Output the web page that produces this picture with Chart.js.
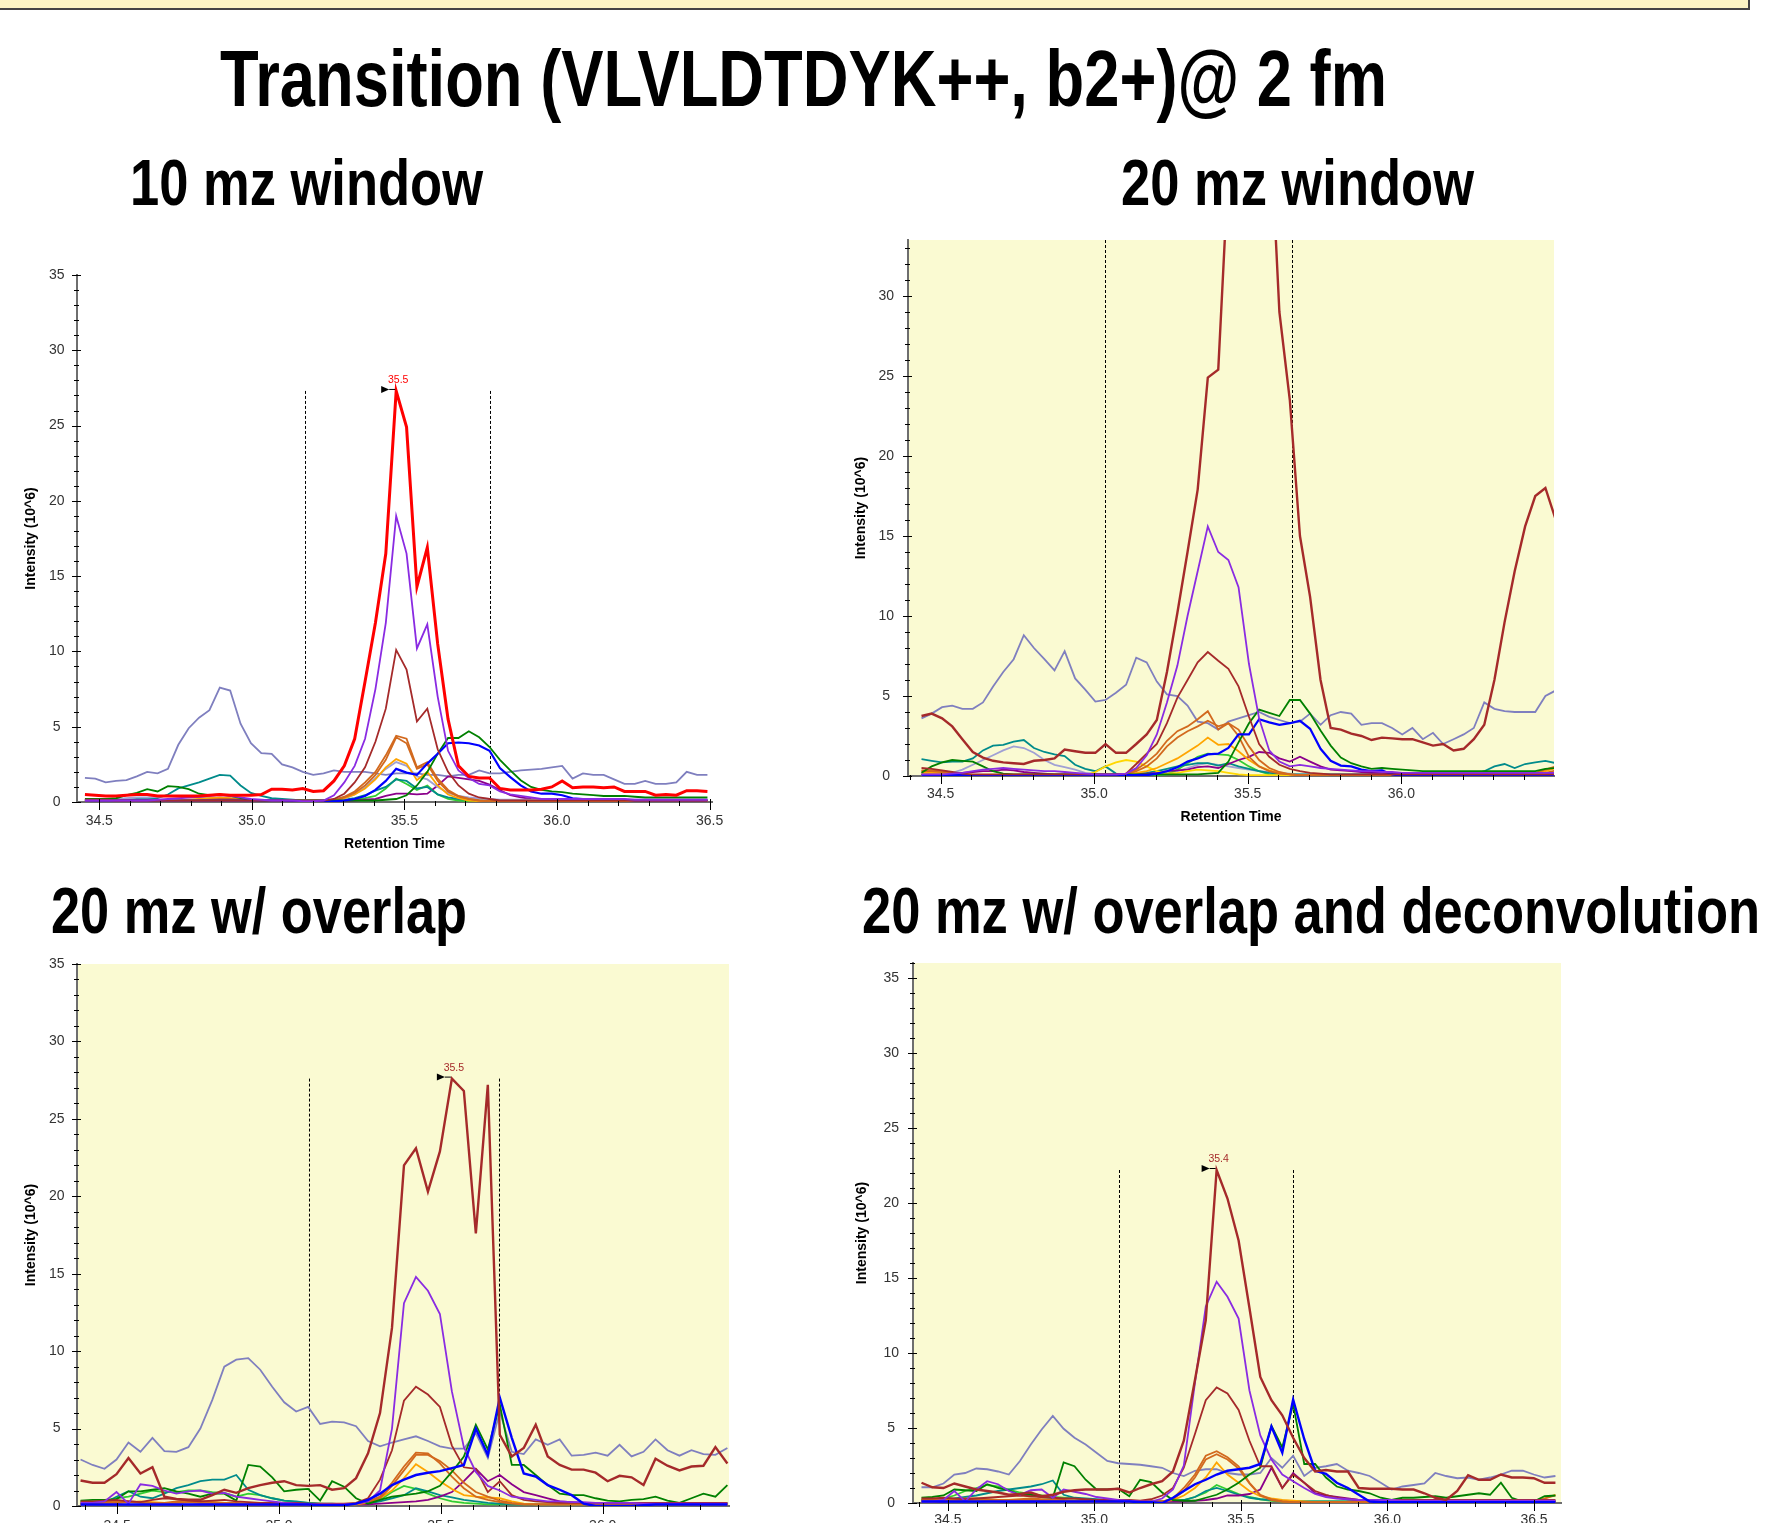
<!DOCTYPE html>
<html>
<head>
<meta charset="utf-8">
<script src="https://cdn.jsdelivr.net/npm/chart.js@4.4.1/dist/chart.umd.min.js"></script>
<style>
  html, body { margin: 0; padding: 0; background: #fff; overflow: hidden; }
  body { width: 1772px; height: 1523px; position: relative; }
  .band { position: absolute; left: 0; top: 0; width: 1748px; height: 8px; background: #fcf4c4;
          border-bottom: 2px solid #444; border-right: 2px solid #444; }
  .head { position: absolute; white-space: nowrap; display: inline-block; line-height: 1;
          font-family: 'Liberation Sans Narrow', 'Liberation Sans', Arial, sans-serif; font-weight: bold;
          color: #000; transform-origin: 0 0; }
  canvas { position: absolute; }
</style>
</head>
<body>
<div class="band"></div>
<div class="head" style="left:220px; top:39px; font-size:80px;" data-w="1167">Transition (VLVLDTDYK++, b2+)@ 2 fm</div>
<div class="head" style="left:130px; top:151px; font-size:64px;" data-w="353">10 mz window</div>
<div class="head" style="left:1121px; top:151px; font-size:64px;" data-w="353">20 mz window</div>
<div class="head" style="left:51px; top:879px; font-size:64px;" data-w="416">20 mz w/ overlap</div>
<div class="head" style="left:862px; top:879px; font-size:64px;" data-w="898">20 mz w/ overlap and deconvolution</div>

<canvas id="p1" width="740" height="610" style="left:0px; top:250px;"></canvas>
<canvas id="p2" width="730" height="620" style="left:840px; top:215px;"></canvas>
<canvas id="p3" width="745" height="630" style="left:0px; top:940px;"></canvas>
<canvas id="p4" width="732" height="630" style="left:840px; top:940px;"></canvas>

<script>
// ---------- 10 mz window ----------
const p1Time = [
  34.453,34.487,34.521,34.555,34.589,34.623,34.657,34.691,34.725,34.759,
  34.793,34.827,34.861,34.895,34.929,34.963,34.997,35.031,35.065,35.099,
  35.133,35.167,35.201,35.235,35.269,35.303,35.337,35.371,35.405,35.439,
  35.473,35.507,35.541,35.575,35.609,35.643,35.677,35.711,35.745,35.779,
  35.813,35.847,35.881,35.915,35.949,35.983,36.017,36.051,36.085,36.119,
  36.153,36.187,36.221,36.255,36.289,36.323,36.357,36.391,36.425,36.459,
  36.493];
const p1Red = [
  0.5,0.45,0.4,0.4,0.45,0.5,0.5,0.4,0.4,0.4,
  0.4,0.4,0.45,0.5,0.45,0.45,0.45,0.5,0.85,0.85,
  0.8,0.9,0.7,0.75,1.4,2.4,4.2,8.0,11.9,16.5,
  27.3,24.9,14.3,16.9,10.5,5.5,2.4,1.7,1.6,1.6,
  0.9,0.8,0.8,0.8,0.85,1.0,1.4,0.95,1.0,1.0,
  0.95,1.0,0.7,0.7,0.7,0.45,0.5,0.45,0.75,0.75,
  0.7];
const p1Violet = [
  0.1,0.1,0.1,0.1,0.1,0.1,0.1,0.15,0.2,0.25,
  0.3,0.35,0.4,0.45,0.4,0.3,0.2,0.15,0.1,0.1,
  0.1,0.05,0.05,0.1,0.45,1.3,2.4,4.2,7.5,11.9,
  19.0,16.5,10.2,11.8,7.0,3.4,2.1,1.6,1.2,1.1,
  0.7,0.5,0.4,0.3,0.2,0.2,0.2,0.2,0.2,0.2,
  0.2,0.2,0.2,0.15,0.15,0.15,0.15,0.15,0.15,0.15,
  0.15];
const p1Brown = [
  0.15,0.15,0.15,0.1,0.1,0.1,0.1,0.1,0.1,0.1,
  0.1,0.1,0.1,0.1,0.1,0.1,0.1,0.1,0.1,0.1,
  0.1,0.1,0.1,0.1,0.2,0.55,1.3,2.3,4.0,6.2,
  10.1,8.8,5.35,6.2,3.5,2.0,1.1,0.55,0.3,0.2,
  0.1,0.1,0.1,0.1,0.1,0.1,0.1,0.1,0.1,0.1,
  0.1,0.1,0.1,0.1,0.1,0.1,0.1,0.1,0.1,0.1,
  0.1];
const p1Choc = [
  0.1,0.1,0.1,0.1,0.1,0.05,0.05,0.05,0.05,0.05,
  0.05,0.1,0.15,0.2,0.2,0.15,0.1,0.05,0.05,0.05,
  0.05,0.05,0.05,0.05,0.15,0.35,0.7,1.3,2.0,3.1,
  4.4,4.2,2.3,2.65,1.55,0.8,0.4,0.2,0.1,0.05,
  0.05,0.05,0.05,0.05,0.05,0.05,0.05,0.05,0.05,0.05,
  0.05,0.05,0.05,0.05,0.05,0.05,0.05,0.05,0.05,0.05,
  0.05];
const p1Choc2 = [
  0.05,0.05,0.05,0.05,0.05,0.05,0.05,0.05,0.05,0.05,
  0.05,0.05,0.05,0.05,0.05,0.05,0.05,0.05,0.05,0.05,
  0.05,0.05,0.05,0.05,0.1,0.3,0.6,1.1,1.8,2.8,
  4.3,3.9,2.2,2.5,1.4,0.7,0.35,0.2,0.1,0.05,
  0.05,0.05,0.05,0.05,0.05,0.05,0.05,0.05,0.05,0.05,
  0.05,0.05,0.05,0.05,0.05,0.05,0.05,0.05,0.05,0.05,
  0.05];
const p1Orange = [
  0.05,0.05,0.05,0.05,0.05,0.05,0.05,0.05,0.05,0.1,
  0.15,0.2,0.25,0.3,0.25,0.15,0.1,0.05,0.05,0.05,
  0.05,0.05,0.05,0.05,0.1,0.25,0.5,0.9,1.5,2.3,
  2.85,2.55,1.45,2.0,1.1,0.5,0.25,0.1,0.05,0.05,
  0.05,0.05,0.05,0.05,0.05,0.05,0.05,0.05,0.05,0.05,
  0.05,0.05,0.05,0.05,0.05,0.05,0.05,0.05,0.05,0.05,
  0.05];
const p1Lilac = [
  0.2,0.2,0.2,0.2,0.25,0.3,0.3,0.35,0.4,0.4,
  0.35,0.3,0.3,0.25,0.25,0.2,0.15,0.1,0.1,0.1,
  0.1,0.1,0.1,0.1,0.1,0.2,0.5,1.0,1.6,2.2,
  2.65,2.4,1.7,1.5,1.0,0.6,0.4,0.3,0.25,0.2,
  0.15,0.15,0.15,0.15,0.15,0.15,0.15,0.15,0.15,0.15,
  0.15,0.15,0.15,0.15,0.15,0.15,0.15,0.15,0.15,0.15,
  0.15];
const p1Teal = [
  0.15,0.15,0.15,0.15,0.15,0.2,0.2,0.25,0.5,0.9,
  1.1,1.3,1.55,1.8,1.75,1.1,0.6,0.4,0.25,0.2,
  0.15,0.1,0.1,0.1,0.1,0.15,0.25,0.45,0.75,1.0,
  1.5,1.4,0.9,1.0,0.5,0.3,0.2,0.15,0.1,0.1,
  0.1,0.1,0.1,0.1,0.1,0.1,0.1,0.1,0.1,0.1,
  0.1,0.1,0.1,0.1,0.1,0.1,0.1,0.1,0.1,0.1,
  0.1];
const p1Green = [
  0.2,0.2,0.2,0.25,0.45,0.6,0.85,0.7,1.05,1.0,
  0.85,0.55,0.45,0.5,0.4,0.25,0.15,0.1,0.1,0.1,
  0.1,0.1,0.1,0.1,0.1,0.1,0.1,0.1,0.1,0.15,
  0.2,0.45,1.1,2.0,3.2,4.25,4.25,4.7,4.3,3.65,
  2.8,2.1,1.45,1.0,0.8,0.7,0.65,0.55,0.5,0.45,
  0.4,0.4,0.4,0.35,0.3,0.3,0.3,0.3,0.3,0.3,
  0.3];
const p1Blue = [
  0.1,0.1,0.1,0.1,0.1,0.1,0.1,0.1,0.1,0.1,
  0.1,0.1,0.1,0.1,0.1,0.1,0.1,0.1,0.1,0.1,
  0.05,0.05,0.05,0.05,0.05,0.1,0.2,0.4,0.8,1.4,
  2.2,1.95,1.8,2.55,3.2,3.9,3.95,3.9,3.75,3.4,
  2.25,1.65,1.1,0.7,0.55,0.55,0.45,0.25,0.2,0.2,
  0.15,0.15,0.15,0.1,0.1,0.1,0.1,0.1,0.1,0.1,
  0.1];
const p1Magenta = [
  0.05,0.05,0.05,0.05,0.05,0.05,0.05,0.05,0.05,0.05,
  0.05,0.1,0.15,0.2,0.15,0.1,0.05,0.05,0.05,0.05,
  0.05,0.05,0.05,0.05,0.05,0.05,0.1,0.15,0.2,0.4,
  0.55,0.55,0.5,0.55,1.1,1.7,1.6,1.5,1.4,1.15,
  0.8,0.45,0.3,0.2,0.15,0.1,0.1,0.1,0.1,0.1,
  0.1,0.1,0.1,0.1,0.1,0.1,0.1,0.1,0.1,0.1,
  0.1];
const p1Lime = [
  0.05,0.05,0.05,0.05,0.05,0.05,0.05,0.05,0.05,0.05,
  0.05,0.05,0.05,0.05,0.05,0.05,0.05,0.05,0.05,0.05,
  0.05,0.05,0.05,0.05,0.05,0.1,0.15,0.25,0.4,0.9,
  1.55,1.2,0.8,1.1,0.5,0.2,0.1,0.05,0.05,0.05,
  0.05,0.05,0.05,0.05,0.05,0.05,0.05,0.05,0.05,0.05,
  0.05,0.05,0.05,0.05,0.05,0.05,0.05,0.05,0.05,0.05,
  0.05];
const p1Slate = [
  1.6,1.55,1.3,1.4,1.45,1.7,2.0,1.9,2.2,3.8,
  4.9,5.6,6.1,7.6,7.4,5.2,3.9,3.25,3.2,2.5,
  2.3,2.0,1.8,1.9,2.1,2.0,2.0,2.0,1.9,1.8,
  1.9,1.9,1.9,1.8,1.8,1.7,1.8,1.8,2.1,1.9,
  1.9,2.0,2.1,2.15,2.2,2.3,2.4,1.55,1.9,1.8,
  1.8,1.5,1.2,1.2,1.4,1.2,1.2,1.3,2.0,1.8,
  1.8];

// ---------- 20 mz window ----------
const p2Time = [
  34.438,34.471,34.505,34.538,34.571,34.605,34.638,34.671,34.704,34.738,
  34.771,34.804,34.838,34.871,34.904,34.938,34.971,35.004,35.037,35.071,
  35.104,35.137,35.171,35.204,35.237,35.271,35.304,35.337,35.370,35.404,
  35.437,35.470,35.504,35.537,35.570,35.603,35.637,35.670,35.703,35.737,
  35.770,35.803,35.837,35.870,35.903,35.937,35.970,36.003,36.036,36.070,
  36.103,36.136,36.170,36.203,36.236,36.270,36.303,36.336,36.369,36.403,
  36.436,36.469,36.503];
const p2Brown = [
  3.75,3.9,3.6,3.1,2.3,1.5,1.15,0.95,0.85,0.8,
  0.75,0.95,1.0,1.1,1.65,1.55,1.45,1.45,2.0,1.45,
  1.45,2.0,2.6,3.5,6.5,10.2,14.0,17.9,24.9,25.4,
  38,48,52,50,42,29,23.5,15,11.2,6.0,
  3.0,2.9,2.65,2.5,2.25,2.4,2.35,2.3,2.3,2.1,
  1.9,2.0,1.6,1.7,2.3,3.2,6.0,9.6,12.8,15.6,
  17.5,18.0,16.0];
const p2Violet = [
  0.1,0.1,0.1,0.15,0.2,0.3,0.4,0.45,0.5,0.45,
  0.4,0.35,0.3,0.3,0.25,0.2,0.15,0.1,0.1,0.1,
  0.15,0.5,1.3,2.6,4.6,6.9,10.0,12.8,15.6,14.0,
  13.5,11.8,7.0,3.6,1.6,0.9,0.6,0.7,0.6,0.5,
  0.45,0.4,0.35,0.3,0.3,0.25,0.25,0.2,0.2,0.2,
  0.2,0.2,0.2,0.2,0.2,0.2,0.2,0.2,0.2,0.2,
  0.2,0.2,0.2];
const p2Brown2 = [
  0.5,0.45,0.35,0.25,0.15,0.1,0.1,0.1,0.1,0.1,
  0.1,0.1,0.1,0.1,0.1,0.1,0.1,0.1,0.1,0.1,
  0.15,0.75,1.4,2.0,3.3,4.9,6.0,7.1,7.75,7.2,
  6.7,5.6,3.7,2.0,1.2,0.7,0.45,0.3,0.2,0.15,
  0.1,0.1,0.1,0.1,0.1,0.1,0.1,0.1,0.1,0.1,
  0.1,0.1,0.1,0.1,0.1,0.1,0.1,0.1,0.1,0.1,
  0.1,0.1,0.1];
const p2Slate = [
  3.6,3.9,4.3,4.4,4.2,4.2,4.6,5.6,6.5,7.3,
  8.8,8.0,7.3,6.6,7.8,6.1,5.4,4.65,4.75,5.2,
  5.7,7.4,7.1,5.9,5.1,5.0,4.4,3.4,3.3,2.9,
  3.4,3.6,3.8,4.0,3.7,3.5,3.3,3.4,3.9,3.2,
  3.8,4.0,3.9,3.2,3.3,3.3,3.0,2.6,3.0,2.3,
  2.7,2.0,2.3,2.6,3.0,4.6,4.2,4.05,4.0,4.0,
  4.0,5.0,5.35];
const p2Green = [
  0.2,0.6,0.85,1.0,0.95,0.9,0.6,0.3,0.15,0.1,
  0.1,0.1,0.1,0.1,0.1,0.1,0.1,0.1,0.1,0.1,
  0.1,0.1,0.1,0.1,0.1,0.1,0.1,0.1,0.15,0.2,
  0.9,2.1,3.3,4.15,3.95,3.75,4.75,4.75,3.9,2.85,
  1.9,1.15,0.8,0.6,0.45,0.5,0.45,0.4,0.35,0.3,
  0.3,0.3,0.3,0.3,0.3,0.3,0.3,0.3,0.3,0.3,
  0.3,0.45,0.5];
const p2Blue = [
  0.05,0.05,0.05,0.05,0.05,0.05,0.05,0.05,0.05,0.05,
  0.05,0.05,0.05,0.05,0.05,0.05,0.05,0.05,0.05,0.05,
  0.05,0.05,0.05,0.15,0.3,0.55,0.9,1.1,1.35,1.4,
  1.75,2.6,2.6,3.55,3.35,3.2,3.3,3.45,2.95,1.7,
  0.95,0.65,0.6,0.4,0.3,0.35,0.1,0.0,0.0,0.0,
  0.0,0.0,0.0,0.0,0.0,0.0,0.0,0.0,0.0,0.0,
  0.0,0.0,0.0];
const p2Teal = [
  1.05,0.95,0.85,0.9,0.9,1.1,1.6,1.9,1.95,2.15,
  2.25,1.75,1.5,1.35,1.25,0.7,0.45,0.3,0.6,0.15,
  0.1,0.15,0.2,0.3,0.45,0.6,0.7,0.8,0.8,0.65,
  0.8,0.6,0.45,0.3,0.2,0.15,0.1,0.1,0.1,0.1,
  0.1,0.1,0.1,0.1,0.1,0.1,0.1,0.1,0.1,0.1,
  0.1,0.1,0.1,0.1,0.1,0.3,0.6,0.75,0.5,0.75,
  0.85,0.95,0.8];
const p2Choc = [
  0.35,0.35,0.3,0.2,0.1,0.05,0.05,0.05,0.05,0.05,
  0.05,0.05,0.05,0.05,0.05,0.05,0.05,0.05,0.05,0.05,
  0.15,0.4,0.85,1.4,2.2,2.8,3.1,3.55,4.05,2.9,
  3.3,2.5,1.2,0.6,0.3,0.15,0.1,0.05,0.05,0.05,
  0.05,0.05,0.05,0.05,0.05,0.05,0.05,0.05,0.05,0.05,
  0.05,0.05,0.05,0.05,0.05,0.05,0.05,0.05,0.05,0.1,
  0.2,0.4,0.6];
const p2Choc2 = [
  0.3,0.3,0.25,0.15,0.1,0.05,0.05,0.05,0.05,0.05,
  0.05,0.05,0.05,0.05,0.05,0.05,0.05,0.05,0.05,0.05,
  0.1,0.3,0.6,1.1,1.85,2.4,2.8,3.1,3.45,3.1,
  3.3,2.9,1.85,1.0,0.5,0.25,0.1,0.05,0.05,0.05,
  0.05,0.05,0.05,0.05,0.05,0.05,0.05,0.05,0.05,0.05,
  0.05,0.05,0.05,0.05,0.05,0.05,0.05,0.05,0.05,0.05,
  0.1,0.2,0.35];
const p2Orange = [
  0.2,0.2,0.2,0.15,0.1,0.05,0.05,0.05,0.05,0.05,
  0.05,0.05,0.05,0.05,0.05,0.05,0.05,0.05,0.05,0.05,
  0.15,0.2,0.3,0.5,0.8,1.1,1.5,1.9,2.4,1.95,
  2.0,1.55,1.0,0.6,0.35,0.2,0.1,0.05,0.05,0.05,
  0.05,0.05,0.05,0.05,0.05,0.05,0.05,0.05,0.05,0.05,
  0.05,0.05,0.05,0.05,0.05,0.05,0.05,0.05,0.05,0.05,
  0.15,0.3,0.5];
const p2Gold = [
  0.05,0.05,0.05,0.05,0.05,0.05,0.05,0.05,0.05,0.05,
  0.05,0.05,0.05,0.05,0.05,0.05,0.05,0.25,0.6,0.85,
  1.0,0.9,0.6,0.3,0.15,0.2,0.3,0.4,0.35,0.3,
  0.2,0.1,0.05,0.05,0.05,0.05,0.05,0.05,0.05,0.05,
  0.05,0.05,0.05,0.05,0.05,0.05,0.05,0.05,0.05,0.05,
  0.05,0.05,0.05,0.05,0.05,0.05,0.05,0.05,0.05,0.05,
  0.05,0.05,0.05];
const p2Magenta = [
  0.1,0.1,0.1,0.15,0.2,0.25,0.3,0.3,0.4,0.35,
  0.25,0.2,0.15,0.1,0.1,0.1,0.1,0.1,0.1,0.1,
  0.1,0.1,0.15,0.2,0.3,0.35,0.4,0.55,0.6,0.5,
  0.75,1.0,1.2,1.5,1.45,1.1,0.9,1.2,0.9,0.6,
  0.4,0.35,0.3,0.25,0.2,0.2,0.15,0.15,0.15,0.15,
  0.15,0.15,0.15,0.15,0.15,0.15,0.15,0.15,0.15,0.15,
  0.15,0.15,0.15];
const p2Lilac = [
  0.2,0.2,0.2,0.2,0.4,0.7,1.0,1.3,1.6,1.85,
  1.75,1.45,1.0,0.7,0.55,0.4,0.2,0.15,0.1,0.1,
  0.1,0.1,0.1,0.1,0.2,0.3,0.5,0.7,0.8,0.7,
  0.6,0.5,0.4,0.3,0.25,0.2,0.15,0.1,0.1,0.1,
  0.1,0.1,0.1,0.1,0.1,0.1,0.1,0.1,0.1,0.1,
  0.1,0.1,0.1,0.1,0.1,0.1,0.1,0.1,0.1,0.1,
  0.1,0.1,0.1];
const p2Lime = [
  0.05,0.05,0.05,0.05,0.05,0.05,0.05,0.05,0.05,0.05,
  0.05,0.05,0.05,0.05,0.05,0.05,0.05,0.05,0.05,0.05,
  0.05,0.05,0.05,0.05,0.1,0.4,0.8,1.2,1.4,1.35,
  1.3,1.0,0.6,0.3,0.1,0.05,0.05,0.05,0.05,0.05,
  0.05,0.05,0.05,0.05,0.05,0.05,0.05,0.05,0.05,0.05,
  0.05,0.05,0.05,0.05,0.05,0.05,0.05,0.05,0.05,0.05,
  0.05,0.05,0.05];

// ---------- 20 mz w/ overlap ----------
const p3Time = [
  34.387,34.424,34.461,34.498,34.535,34.572,34.609,34.646,34.683,34.720,
  34.757,34.794,34.831,34.868,34.905,34.942,34.979,35.016,35.053,35.090,
  35.127,35.164,35.201,35.238,35.275,35.312,35.349,35.386,35.423,35.460,
  35.497,35.534,35.571,35.608,35.645,35.682,35.719,35.756,35.793,35.830,
  35.867,35.904,35.941,35.978,36.015,36.052,36.089,36.126,36.163,36.200,
  36.237,36.274,36.311,36.348,36.385];
const p3Brown = [
  1.65,1.5,1.5,2.05,3.1,2.1,2.5,0.6,0.45,0.4,
  0.4,0.7,1.05,0.85,1.15,1.35,1.5,1.6,1.35,1.3,
  1.35,1.05,1.15,1.8,3.4,6.0,11.5,22.0,23.1,20.3,
  22.9,27.6,26.8,17.6,27.2,4.6,3.2,3.75,5.25,3.2,
  2.65,2.35,2.35,2.15,1.6,1.95,1.85,1.35,3.05,2.6,
  2.3,2.55,2.6,3.8,2.75];
const p3Brown2 = [
  0.3,0.3,0.35,0.4,0.3,0.25,0.4,0.5,0.45,0.35,
  0.3,0.35,0.4,0.3,0.25,0.2,0.2,0.2,0.2,0.15,
  0.15,0.15,0.15,0.2,0.5,1.7,3.6,6.8,7.7,7.2,
  6.4,3.9,2.5,2.4,0.9,1.6,0.7,0.4,0.3,0.25,
  0.2,0.2,0.2,0.2,0.2,0.2,0.2,0.2,0.2,0.2,
  0.2,0.2,0.2,0.2,0.2];
const p3Violet = [
  0.2,0.2,0.3,0.9,0.15,1.4,1.3,1.0,0.8,0.95,
  1.0,0.8,0.85,0.6,0.5,0.4,0.3,0.2,0.15,0.1,
  0.1,0.1,0.1,0.15,0.3,1.0,5.0,13.1,14.8,13.9,
  12.4,7.4,3.8,2.2,1.3,1.0,0.6,0.5,0.4,0.3,
  0.3,0.25,0.25,0.2,0.2,0.2,0.2,0.15,0.15,0.15,
  0.15,0.15,0.15,0.15,0.15];
const p3Slate = [
  3.0,2.65,2.4,3.0,4.1,3.5,4.4,3.55,3.5,3.8,
  5.0,6.85,9.0,9.45,9.55,8.8,7.7,6.7,6.1,6.4,
  5.3,5.45,5.4,5.15,4.2,3.85,4.1,4.3,4.5,4.2,
  3.85,3.7,3.7,4.7,3.1,6.1,3.5,3.35,4.3,3.95,
  4.3,3.25,3.3,3.45,3.25,3.95,3.2,3.5,4.3,3.6,
  3.25,3.6,3.35,3.3,3.75];
const p3Blue = [
  0.1,0.1,0.1,0.1,0.1,0.1,0.1,0.1,0.1,0.1,
  0.1,0.1,0.1,0.1,0.1,0.1,0.1,0.1,0.1,0.1,
  0.05,0.05,0.05,0.15,0.4,0.8,1.35,1.7,2.0,2.15,
  2.25,2.45,2.65,5.0,3.3,7.0,4.4,2.1,1.9,1.35,
  1.05,0.7,0.15,0.0,0.0,0.0,0.0,0.05,0.1,0.1,
  0.1,0.1,0.1,0.1,0.1];
const p3Green = [
  0.35,0.4,0.4,0.45,0.95,0.95,1.05,1.15,0.95,0.8,
  0.6,0.8,0.8,0.35,2.65,2.55,1.85,0.95,1.05,1.1,
  0.35,1.6,1.25,0.5,0.15,0.4,0.6,0.7,0.8,0.95,
  1.3,2.2,3.2,5.25,3.65,6.55,2.65,2.65,2.0,1.35,
  0.8,0.7,0.7,0.5,0.35,0.3,0.4,0.45,0.6,0.35,
  0.2,0.5,0.8,0.6,1.35];
const p3Teal = [
  0.15,0.15,0.2,0.6,0.95,0.6,0.5,0.8,1.15,1.35,
  1.6,1.7,1.7,2.0,1.05,0.7,0.5,0.35,0.3,0.2,
  0.15,0.15,0.1,0.1,0.15,0.3,0.5,0.7,1.15,0.95,
  0.7,0.55,0.4,0.3,0.2,0.15,0.1,0.1,0.1,0.1,
  0.1,0.1,0.1,0.1,0.1,0.1,0.1,0.1,0.1,0.1,
  0.15,0.15,0.2,0.2,0.2];
const p3Choc = [
  0.2,0.2,0.25,0.3,0.3,0.25,0.2,0.2,0.3,0.35,
  0.3,0.25,0.2,0.2,0.15,0.1,0.1,0.1,0.1,0.1,
  0.1,0.1,0.1,0.15,0.3,0.6,1.5,2.55,3.45,3.4,
  2.75,1.9,1.15,0.6,0.4,0.25,0.15,0.1,0.1,0.1,
  0.1,0.1,0.1,0.1,0.1,0.1,0.1,0.1,0.1,0.1,
  0.1,0.1,0.1,0.1,0.1];
const p3Choc2 = [
  0.15,0.15,0.2,0.2,0.25,0.2,0.15,0.15,0.2,0.25,
  0.2,0.2,0.15,0.15,0.1,0.1,0.1,0.1,0.1,0.1,
  0.1,0.1,0.1,0.15,0.25,0.5,1.3,2.3,3.3,3.3,
  2.9,2.3,1.5,0.9,0.6,0.35,0.2,0.1,0.1,0.1,
  0.1,0.1,0.1,0.1,0.1,0.1,0.1,0.1,0.1,0.1,
  0.1,0.1,0.1,0.1,0.1];
const p3Orange = [
  0.1,0.1,0.15,0.2,0.25,0.3,0.25,0.2,0.2,0.25,
  0.3,0.25,0.2,0.15,0.1,0.1,0.1,0.1,0.1,0.1,
  0.1,0.1,0.1,0.1,0.2,0.5,1.0,1.8,2.7,2.2,
  1.6,1.1,0.7,0.6,0.55,0.5,0.3,0.15,0.1,0.1,
  0.1,0.1,0.1,0.1,0.1,0.1,0.1,0.1,0.1,0.1,
  0.1,0.1,0.1,0.1,0.1];
const p3Magenta = [
  0.1,0.1,0.15,0.2,0.3,0.25,0.2,0.15,0.2,0.25,
  0.2,0.15,0.1,0.1,0.1,0.1,0.1,0.1,0.1,0.1,
  0.1,0.1,0.1,0.1,0.1,0.15,0.2,0.25,0.3,0.4,
  0.6,0.9,1.6,2.4,1.6,2.0,1.4,0.9,0.7,0.5,
  0.3,0.25,0.2,0.15,0.15,0.15,0.15,0.15,0.15,0.15,
  0.15,0.15,0.15,0.15,0.15];
const p3Lime = [
  0.3,0.3,0.3,0.5,0.6,0.8,1.0,0.9,0.9,1.0,
  1.0,0.9,0.85,0.6,0.8,0.7,0.5,0.35,0.25,0.2,
  0.15,0.1,0.1,0.1,0.15,0.4,0.9,1.3,1.1,0.8,
  0.5,0.3,0.2,0.15,0.1,0.1,0.1,0.1,0.1,0.1,
  0.1,0.1,0.1,0.1,0.1,0.1,0.1,0.1,0.1,0.1,
  0.1,0.1,0.1,0.1,0.1];

// ---------- 20 mz w/ overlap and deconvolution ----------
const p4Time = [
  34.410,34.447,34.485,34.522,34.559,34.597,34.634,34.671,34.708,34.746,
  34.783,34.820,34.858,34.895,34.932,34.970,35.007,35.044,35.081,35.119,
  35.156,35.193,35.231,35.268,35.305,35.343,35.380,35.417,35.454,35.492,
  35.529,35.566,35.604,35.641,35.678,35.716,35.753,35.790,35.827,35.865,
  35.902,35.939,35.977,36.014,36.051,36.089,36.126,36.163,36.200,36.238,
  36.275,36.312,36.350,36.387,36.424,36.462,36.499,36.536,36.573];
const p4Brown = [
  1.35,1.05,1.0,1.3,1.1,0.9,0.8,0.7,0.55,0.6,
  0.7,0.45,0.55,0.75,0.85,0.9,0.9,0.9,0.95,0.7,
  1.0,1.25,1.45,2.1,4.15,8.2,12.2,22.2,20.3,17.5,
  13.0,8.4,6.85,5.85,4.35,3.0,2.1,2.2,2.1,2.1,
  1.0,0.95,0.95,0.95,0.9,0.9,0.65,0.35,0.2,0.8,
  1.85,1.55,1.55,1.9,1.7,1.7,1.65,1.35,1.35];
const p4Brown2 = [
  0.3,0.3,0.35,0.3,0.25,0.3,0.35,0.4,0.45,0.5,
  0.45,0.4,0.35,0.3,0.3,0.25,0.2,0.2,0.2,0.2,
  0.15,0.25,0.5,1.0,2.35,4.6,6.85,7.7,7.3,6.2,
  4.15,2.45,2.45,1.0,1.9,1.35,0.8,0.55,0.35,0.25,
  0.2,0.2,0.2,0.2,0.2,0.2,0.2,0.2,0.2,0.2,
  0.2,0.2,0.2,0.2,0.2,0.2,0.2,0.2,0.2];
const p4Violet = [
  0.1,0.1,0.2,0.8,0.1,0.9,1.45,1.25,0.8,0.55,
  0.85,0.9,0.35,0.9,0.75,0.6,0.4,0.3,0.2,0.15,
  0.1,0.1,0.3,0.9,2.5,8.0,13.1,14.75,13.75,12.3,
  7.5,4.5,2.9,1.9,1.45,1.0,0.6,0.4,0.3,0.25,
  0.2,0.2,0.2,0.2,0.15,0.15,0.15,0.15,0.15,0.15,
  0.15,0.15,0.15,0.15,0.15,0.15,0.15,0.15,0.15];
const p4Slate = [
  1.05,1.05,1.3,1.9,2.0,2.3,2.25,2.1,1.9,2.8,
  3.9,4.9,5.8,4.95,4.35,3.9,3.35,2.8,2.65,2.6,
  2.55,2.45,2.35,2.0,1.8,2.15,2.25,2.25,2.0,1.9,
  1.9,2.0,3.0,2.35,3.15,1.8,2.35,2.45,2.6,2.15,
  2.0,1.8,1.35,0.9,1.1,1.2,1.3,2.0,1.8,1.65,
  1.7,1.55,1.7,1.9,2.15,2.15,1.9,1.7,1.8];
const p4Blue = [
  0.1,0.1,0.1,0.1,0.1,0.1,0.1,0.1,0.1,0.1,
  0.1,0.1,0.1,0.1,0.1,0.1,0.1,0.1,0.1,0.1,
  0.05,0.05,0.0,0.35,0.8,1.25,1.55,1.9,2.15,2.25,
  2.35,2.6,5.1,3.35,6.9,4.25,2.15,1.95,1.35,1.0,
  0.55,0.1,0.05,0.05,0.05,0.05,0.05,0.05,0.05,0.05,
  0.05,0.05,0.05,0.05,0.05,0.05,0.05,0.05,0.05];
const p4Green = [
  0.35,0.4,0.5,0.9,0.85,0.8,1.25,1.0,0.85,0.55,
  0.55,0.4,0.35,2.7,2.45,1.55,0.9,0.9,0.95,0.45,
  1.55,1.4,0.7,0.2,0.15,0.15,0.35,0.55,0.9,1.35,
  1.9,2.35,5.15,3.7,6.6,2.6,2.6,1.7,1.1,0.9,
  0.8,0.65,0.35,0.2,0.35,0.35,0.4,0.45,0.35,0.45,
  0.55,0.65,0.55,1.35,0.35,0.1,0.1,0.45,0.5];
const p4Teal = [
  0.2,0.2,0.25,0.3,0.4,0.5,0.65,0.8,0.9,1.0,
  1.1,1.25,1.5,0.55,0.35,0.3,0.25,0.2,0.15,0.15,
  0.1,0.1,0.1,0.1,0.2,0.4,0.8,1.0,0.8,0.55,
  0.35,0.25,0.2,0.15,0.1,0.1,0.1,0.1,0.1,0.1,
  0.1,0.1,0.1,0.1,0.1,0.1,0.1,0.1,0.1,0.1,
  0.1,0.1,0.1,0.1,0.1,0.1,0.1,0.1,0.1];
const p4Choc = [
  0.2,0.2,0.2,0.25,0.3,0.3,0.25,0.2,0.2,0.25,
  0.3,0.25,0.2,0.2,0.15,0.15,0.1,0.1,0.1,0.1,
  0.1,0.1,0.1,0.3,1.0,1.9,3.15,3.45,3.05,2.45,
  1.35,0.55,0.25,0.1,0.05,0.05,0.05,0.05,0.05,0.05,
  0.05,0.05,0.05,0.05,0.05,0.05,0.05,0.05,0.05,0.05,
  0.05,0.05,0.05,0.05,0.05,0.05,0.1,0.3,0.5];
const p4Choc2 = [
  0.15,0.15,0.15,0.2,0.2,0.25,0.2,0.15,0.15,0.2,
  0.2,0.2,0.15,0.15,0.1,0.1,0.1,0.1,0.1,0.1,
  0.1,0.1,0.1,0.25,0.8,1.7,2.9,3.25,2.9,2.3,
  1.3,0.5,0.2,0.1,0.05,0.05,0.05,0.05,0.05,0.05,
  0.05,0.05,0.05,0.05,0.05,0.05,0.05,0.05,0.05,0.05,
  0.05,0.05,0.05,0.05,0.05,0.05,0.05,0.05,0.05];
const p4Orange = [
  0.1,0.1,0.15,0.2,0.2,0.15,0.1,0.1,0.15,0.2,
  0.2,0.15,0.1,0.1,0.1,0.1,0.05,0.05,0.05,0.05,
  0.05,0.05,0.1,0.2,0.5,1.0,1.7,2.7,1.9,1.35,
  0.8,0.45,0.3,0.2,0.15,0.1,0.05,0.05,0.05,0.05,
  0.05,0.05,0.05,0.05,0.05,0.05,0.05,0.05,0.05,0.05,
  0.05,0.05,0.05,0.05,0.05,0.05,0.1,0.3,0.55];
const p4Magenta = [
  0.1,0.1,0.1,0.15,0.2,0.2,0.15,0.1,0.1,0.1,
  0.1,0.1,0.1,0.1,0.1,0.1,0.1,0.1,0.1,0.1,
  0.05,0.05,0.05,0.1,0.1,0.15,0.2,0.3,0.5,0.5,
  0.6,0.9,2.35,1.0,2.0,1.35,0.65,0.5,0.4,0.3,
  0.2,0.2,0.15,0.15,0.1,0.1,0.1,0.1,0.1,0.1,
  0.1,0.1,0.1,0.1,0.1,0.1,0.1,0.1,0.1];
const p4Lime = [
  0.2,0.2,0.3,0.5,0.8,1.0,1.2,1.1,0.9,0.7,
  0.6,0.5,0.4,0.35,0.3,0.25,0.2,0.15,0.1,0.1,
  0.1,0.1,0.1,0.1,0.2,0.4,0.7,1.2,0.9,0.6,
  0.4,0.25,0.15,0.1,0.1,0.1,0.1,0.1,0.1,0.1,
  0.1,0.1,0.1,0.1,0.1,0.1,0.1,0.1,0.1,0.1,
  0.1,0.1,0.1,0.1,0.1,0.1,0.1,0.1,0.1];

// peak boundaries (retention time) for each panel
const p1Bounds = [35.173, 35.779];
const p2Bounds = [35.034, 35.644];
const p3Bounds = [35.092, 35.681];
const p4Bounds = [35.084, 35.678];

const C = {
  red: '#ff0000', violet: '#8a2be2', brown: '#a52a2a', choc: '#d2691e', orange: '#ffa500',
  gold: '#ffd700', green: '#008000', teal: '#008b8b', blue: '#0000ff', slate: '#7f7fbf',
  lilac: '#a0a0d4', magenta: '#8b008b', lime: '#32cd32'
};
const FONT = "'Liberation Sans', Arial, sans-serif";

// fit the condensed headings to their widths
document.querySelectorAll('.head').forEach(el => {
  const w = el.getBoundingClientRect().width;
  el.style.transform = 'scaleX(' + (Number(el.dataset.w) / w) + ')';
});

function line(times, values, color, width) {
  return {
    data: times.map((t, i) => ({ x: t, y: values[i] })),
    borderColor: color,
    borderWidth: width || 1.8,
    pointRadius: 0,
    fill: false,
    tension: 0
  };
}

const chromDecor = {
  id: 'chromDecor',
  beforeDraw(chart, args, o) {
    if (!o.background) return;
    const { ctx, chartArea: a } = chart;
    ctx.save();
    ctx.fillStyle = o.background;
    ctx.fillRect(a.left, a.top, a.right - a.left, a.bottom - a.top);
    ctx.restore();
  },
  beforeDatasetsDraw(chart, args, o) {
    const { ctx, chartArea: a, scales: { x, y } } = chart;
    const top = o.peak ? y.getPixelForValue(Math.max(...o.peak.values)) : a.top;
    ctx.save();
    ctx.strokeStyle = '#000';
    ctx.lineWidth = 1;
    ctx.setLineDash([3, 2]);
    o.bounds.forEach(b => {
      const px = Math.round(x.getPixelForValue(b)) + 0.5;
      ctx.beginPath();
      ctx.moveTo(px, top);
      ctx.lineTo(px, a.bottom);
      ctx.stroke();
    });
    ctx.restore();
  },
  afterDraw(chart, args, o) {
    const { ctx, chartArea: a, scales: { x, y } } = chart;
    ctx.save();
    ctx.strokeStyle = '#000';
    ctx.lineWidth = 1;
    // y ticks, one per unit, longer every 5
    for (let v = 0; v <= y.max + 1e-9; v++) {
      const py = Math.round(y.getPixelForValue(v)) + 0.5;
      const half = v % 5 === 0 ? 5 : 3;
      ctx.beginPath();
      ctx.moveTo(a.left - half, py);
      ctx.lineTo(a.left + half - 1, py);
      ctx.stroke();
    }
    // x ticks every 0.1, longer every 0.5
    const first = Math.ceil(x.min * 10), last = Math.floor(x.max * 10);
    for (let k = first; k <= last; k++) {
      const px = Math.round(x.getPixelForValue(k / 10)) + 0.5;
      const major = k % 5 === 0;
      ctx.beginPath();
      ctx.moveTo(px, a.bottom - (major ? 3 : 1));
      ctx.lineTo(px, a.bottom + (major ? 8 : 4));
      ctx.stroke();
    }
    // apex marker
    if (o.peak) {
      const vals = o.peak.values;
      let im = 0;
      vals.forEach((v, i) => { if (v > vals[im]) im = i; });
      const px = x.getPixelForValue(o.peak.times[im]);
      const py = y.getPixelForValue(vals[im]);
      ctx.fillStyle = '#000';
      ctx.beginPath();
      ctx.moveTo(px - 15, py - 5);
      ctx.lineTo(px - 7, py - 1.5);
      ctx.lineTo(px - 15, py + 2);
      ctx.closePath();
      ctx.fill();
      ctx.beginPath();
      ctx.moveTo(px - 7, py - 1.5);
      ctx.lineTo(px - 1, py - 1.5);
      ctx.stroke();
      ctx.fillStyle = o.peak.color;
      ctx.font = '10.5px ' + FONT;
      ctx.textAlign = 'center';
      ctx.textBaseline = 'alphabetic';
      ctx.fillText(o.peak.label, px + 2, py - 8);
    }
    ctx.restore();
  }
};

// label only ticks sitting exactly on a multiple of 0.5
function rtLabel(v) {
  const t = v * 10, r = Math.round(t);
  return Math.abs(t - r) < 1e-6 && r % 5 === 0 ? (r / 10).toFixed(1) : '';
}

function makePanel(id, g, datasets, decor) {
  new Chart(document.getElementById(id), {
    type: 'line',
    data: { datasets },
    plugins: [chromDecor],
    options: {
      responsive: false,
      animation: false,
      events: [],
      layout: { padding: { left: 0, top: g.padTop, right: g.padRight, bottom: 0 }, autoPadding: false },
      plugins: { legend: { display: false }, tooltip: { enabled: false }, chromDecor: decor },
      scales: {
        x: {
          type: 'linear', min: g.xMin, max: g.xMax,
          afterFit: s => { s.height = g.xAxisH; },
          grid: { display: false, drawTicks: false },
          border: { display: true, color: '#6e6e6e', width: 2 },
          ticks: {
            stepSize: 0.1, autoSkip: false, maxRotation: 0, includeBounds: false,
            padding: g.xLabelPad, color: '#333', font: { size: 14, family: FONT },
            callback: rtLabel
          },
          title: { display: true, text: 'Retention Time', color: '#000',
                   font: { size: 14, weight: 'bold', family: FONT }, padding: { top: 0, bottom: g.xTitlePad } }
        },
        y: {
          min: 0, max: g.yMax,
          afterFit: s => { s.width = g.yAxisW; },
          grid: { display: false, drawTicks: false },
          border: { display: true, color: '#6e6e6e', width: 2 },
          ticks: {
            stepSize: 1, autoSkip: false, includeBounds: false, crossAlign: 'center',
            padding: g.yLabelPad, color: '#333', font: { size: 14, family: FONT },
            callback: v => (Math.abs(v % 5) < 1e-9 ? String(v) : '')
          },
          title: { display: true, text: 'Intensity (10^6)', color: '#000',
                   font: { size: 14, weight: 'bold', family: FONT }, padding: { top: g.yTitlePad, bottom: 0 } }
        }
      }
    }
  });
}

makePanel('p1',
  { xMin: 34.427, xMax: 36.508, yMax: 35, yAxisW: 77, padTop: 25, padRight: 28, xAxisH: 58,
    xLabelPad: 11, xTitlePad: 7, yLabelPad: 12.5, yTitlePad: 23 },
  [
    line(p1Time, p1Red, C.red, 3),
    line(p1Time, p1Violet, C.violet),
    line(p1Time, p1Brown, C.brown),
    line(p1Time, p1Blue, C.blue, 2.2),
    line(p1Time, p1Green, C.green),
    line(p1Time, p1Choc, C.choc),
    line(p1Time, p1Choc2, C.choc),
    line(p1Time, p1Orange, C.orange),
    line(p1Time, p1Lilac, C.lilac),
    line(p1Time, p1Teal, C.teal),
    line(p1Time, p1Magenta, C.magenta),
    line(p1Time, p1Lime, C.lime),
    line(p1Time, p1Slate, C.slate)
  ],
  { background: null, bounds: p1Bounds, peak: { times: p1Time, values: p1Red, label: '35.5', color: C.red } });

makePanel('p2',
  { xMin: 34.394, xMax: 36.497, yMax: 33.5, yAxisW: 68, padTop: 25, padRight: 16, xAxisH: 59,
    xLabelPad: 10, xTitlePad: 9.5, yLabelPad: 14, yTitlePad: 12.6 },
  [
    line(p2Time, p2Brown, C.brown, 2.4),
    line(p2Time, p2Violet, C.violet),
    line(p2Time, p2Brown2, C.brown),
    line(p2Time, p2Blue, C.blue, 2.2),
    line(p2Time, p2Green, C.green),
    line(p2Time, p2Choc, C.choc),
    line(p2Time, p2Choc2, C.choc),
    line(p2Time, p2Orange, C.orange),
    line(p2Time, p2Gold, C.gold),
    line(p2Time, p2Magenta, C.magenta),
    line(p2Time, p2Teal, C.teal),
    line(p2Time, p2Lime, C.lime),
    line(p2Time, p2Lilac, C.lilac),
    line(p2Time, p2Slate, C.slate)
  ],
  { background: '#fafad2', bounds: p2Bounds, peak: null });

makePanel('p3',
  { xMin: 34.376, xMax: 36.39, yMax: 35, yAxisW: 77, padTop: 24, padRight: 16, xAxisH: 64,
    xLabelPad: 12, xTitlePad: 8, yLabelPad: 12.5, yTitlePad: 23 },
  [
    line(p3Time, p3Brown, C.brown, 2.4),
    line(p3Time, p3Blue, C.blue, 2.4),
    line(p3Time, p3Violet, C.violet),
    line(p3Time, p3Brown2, C.brown),
    line(p3Time, p3Green, C.green),
    line(p3Time, p3Choc, C.choc),
    line(p3Time, p3Choc2, C.choc),
    line(p3Time, p3Orange, C.orange),
    line(p3Time, p3Magenta, C.magenta),
    line(p3Time, p3Teal, C.teal),
    line(p3Time, p3Lime, C.lime),
    line(p3Time, p3Slate, C.slate)
  ],
  { background: '#fafad2', bounds: p3Bounds, peak: { times: p3Time, values: p3Brown, label: '35.5', color: C.brown } });

makePanel('p4',
  { xMin: 34.381, xMax: 36.592, yMax: 36, yAxisW: 73, padTop: 23, padRight: 11, xAxisH: 67,
    xLabelPad: 9, xTitlePad: 8, yLabelPad: 14, yTitlePad: 13.6 },
  [
    line(p4Time, p4Brown, C.brown, 2.4),
    line(p4Time, p4Blue, C.blue, 2.4),
    line(p4Time, p4Violet, C.violet),
    line(p4Time, p4Brown2, C.brown),
    line(p4Time, p4Green, C.green),
    line(p4Time, p4Choc, C.choc),
    line(p4Time, p4Choc2, C.choc),
    line(p4Time, p4Orange, C.orange),
    line(p4Time, p4Magenta, C.magenta),
    line(p4Time, p4Teal, C.teal),
    line(p4Time, p4Lime, C.lime),
    line(p4Time, p4Slate, C.slate)
  ],
  { background: '#fafad2', bounds: p4Bounds, peak: { times: p4Time, values: p4Brown, label: '35.4', color: C.brown } });
</script>
</body>
</html>
